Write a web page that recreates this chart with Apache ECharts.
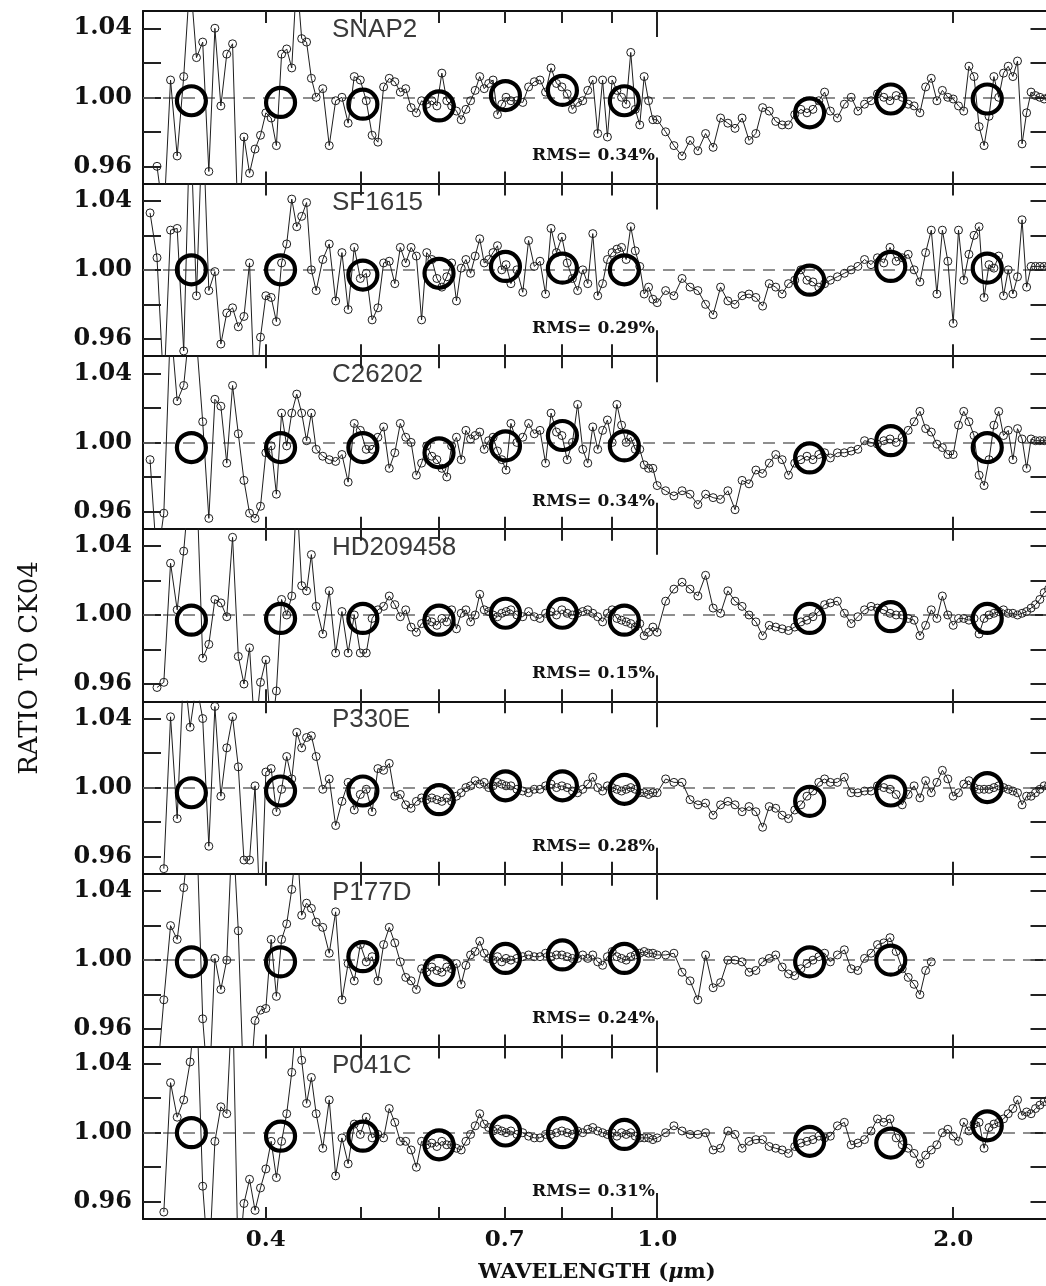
<!DOCTYPE html>
<html><head><meta charset="utf-8">
<script src="https://cdn.jsdelivr.net/npm/echarts@6/dist/echarts.min.js"></script>
<style>html,body{margin:0;padding:0;background:#fff;overflow:hidden}#c{width:1060px;height:1286px}</style>
</head><body><div id="c"></div><script>
// ---------- DATA ----------
const wavelengths = [
 0.305,0.310,0.315,0.320,0.325,0.330,0.335,0.340,0.345,0.350,0.355,0.360,0.365,0.370,0.375,0.380,0.385,0.390,0.395,0.400,0.405,0.410,0.415,0.420,0.425,0.430,0.435,0.440,0.445,0.450,
 0.457,0.464,0.471,0.478,0.485,0.492,0.499,0.506,0.513,0.520,0.527,0.534,0.541,0.548,0.555,0.562,0.569,0.576,0.583,0.590,0.597,0.604,0.611,0.618,0.625,0.632,0.639,0.646,0.653,0.660,0.667,0.674,0.681,0.688,0.695,0.702,
 0.71,0.72,0.73,0.74,0.75,0.76,0.77,0.78,0.79,0.80,0.81,0.82,0.83,0.84,0.85,0.86,0.87,0.88,0.89,0.90,0.91,0.92,0.93,0.94,0.95,0.96,0.97,0.98,0.99,1.00,
 1.02,1.04,1.06,1.08,1.10,1.12,1.14,1.16,1.18,1.20,1.22,1.24,1.26,1.28,1.30,1.32,1.34,1.36,1.38,1.40,1.42,1.44,1.46,1.48,1.50,
 1.525,1.55,1.575,1.60,1.625,1.65,1.675,1.70,1.725,1.75,1.775,1.80,1.825,1.85,1.875,1.90,1.925,1.95,1.975,2.00,2.025,2.05,2.075,2.10,2.125,2.15,2.175,2.20,2.225,2.25,2.275,2.30,2.325,2.35,2.375,2.40,2.425,2.45,2.475,2.50
];
const starNames = ['SNAP2','SF1615','C26202','HD209458','P330E','P177D','P041C'];
const rmsValues = ['0.34%','0.29%','0.34%','0.15%','0.28%','0.24%','0.31%'];

const ratioSNAP2 = [
 null,0.960,0.93,1.010,0.966,1.012,1.07,1.023,1.032,0.957,1.040,0.995,1.025,1.031,0.92,0.977,0.956,0.97,0.978,0.991,0.988,0.972,1.025,1.028,1.017,1.07,1.034,1.032,1.011,1.000,
 1.005,0.972,0.998,1.000,0.985,1.012,1.010,0.998,0.978,0.974,1.006,1.011,1.009,1.003,1.005,0.994,0.991,0.998,0.996,0.998,0.995,1.014,0.998,0.995,0.992,0.987,0.993,0.998,1.004,1.012,1.005,1.008,1.010,0.990,0.996,1.000,
 0.998,0.998,0.997,1.006,1.009,1.010,1.003,1.017,1.008,1.006,1.002,0.993,0.997,0.998,1.004,1.010,0.979,1.010,0.977,1.010,1.004,1.000,0.996,1.026,0.993,0.984,1.012,0.998,0.987,0.987,
 0.980,0.972,0.966,0.975,0.969,0.979,0.971,0.988,0.985,0.982,0.988,0.975,0.979,0.994,0.992,0.986,0.984,0.984,0.990,0.993,0.991,0.993,0.998,1.003,0.992,
 0.988,0.996,1.000,0.992,0.996,0.998,1.002,1.000,0.998,1.001,1.000,0.996,0.995,0.991,1.006,1.011,0.998,1.004,1.000,0.999,0.995,0.992,1.018,1.012,0.983,0.972,0.989,1.012,1.000,1.014,1.018,1.012,1.021,0.973,0.991,1.003,1.001,1.000,0.999,1.000
];
const ratioSF1615 = [
 1.033,1.007,0.93,1.023,1.024,0.953,1.09,0.985,1.09,0.988,0.999,0.957,0.975,0.978,0.967,0.973,1.004,0.92,0.961,0.985,0.984,0.970,1.004,1.015,1.041,1.025,1.031,1.039,1.000,0.988,
 1.006,1.015,0.982,1.010,0.977,1.013,0.995,0.998,0.971,0.978,1.004,1.005,0.992,1.013,1.004,1.013,1.008,0.971,1.010,1.006,0.995,0.990,0.996,1.004,0.982,1.001,1.006,0.998,1.008,1.018,1.004,1.006,1.010,1.014,1.000,1.003,
 0.992,1.000,0.987,1.017,1.002,1.005,0.986,1.024,1.010,1.019,1.004,0.995,0.988,1.000,0.992,1.021,0.985,0.992,1.006,1.010,1.012,1.013,1.006,1.025,1.011,1.002,0.986,0.990,0.983,0.981,
 0.988,0.985,0.995,0.990,0.988,0.980,0.974,0.990,0.982,0.980,0.985,0.986,0.984,0.979,0.992,0.990,0.986,0.992,0.994,1.000,0.994,0.993,0.990,0.992,0.994,
 0.996,0.998,1.000,1.002,1.006,1.003,1.007,1.004,1.013,1.005,1.007,1.009,1.000,0.993,1.010,1.023,0.986,1.023,1.005,0.969,1.023,0.994,1.009,1.020,1.025,0.984,1.003,1.001,1.008,0.985,1.000,0.986,0.996,1.029,0.990,1.002,1.002,1.002,1.002,1.002
];
const ratioC26202 = [
 0.990,0.93,0.959,1.07,1.024,1.033,1.07,1.06,1.012,0.956,1.025,1.021,0.988,1.033,1.005,0.978,0.959,0.956,0.963,0.994,0.998,0.970,1.017,0.998,1.017,1.028,1.017,1.001,1.017,0.996,
 0.992,0.990,0.989,0.993,0.977,1.011,1.007,0.996,0.996,1.003,1.009,0.985,0.994,1.011,1.003,1.000,0.981,0.988,0.998,0.992,0.990,0.985,0.980,0.998,1.003,0.990,1.007,1.002,1.004,1.006,0.996,1.001,1.003,0.995,0.990,0.984,
 1.011,1.000,1.003,1.011,1.005,1.007,0.988,1.017,1.006,1.004,0.990,1.000,1.022,0.996,0.988,1.009,0.996,1.007,1.013,1.000,1.022,1.010,1.000,1.003,0.996,0.996,0.987,0.985,0.985,0.975,
 0.972,0.969,0.972,0.970,0.964,0.970,0.968,0.967,0.972,0.961,0.978,0.976,0.984,0.982,0.988,0.993,0.990,0.981,0.988,0.990,0.992,0.990,0.993,0.994,0.991,
 0.994,0.994,0.995,0.996,1.001,1.000,0.999,1.001,1.002,1.000,1.003,1.007,1.012,1.018,1.008,1.006,0.999,0.997,0.993,0.993,1.010,1.018,1.012,1.004,0.981,0.975,0.990,1.010,1.018,1.004,1.007,0.990,1.008,1.002,0.985,1.002,1.001,1.001,1.001,1.001
];
const ratioHD209458 = [
 null,0.958,0.961,1.030,1.003,1.037,1.08,1.08,0.975,0.983,1.009,1.007,0.999,1.045,0.976,0.960,0.981,0.93,0.961,0.974,0.93,0.956,1.009,1.000,1.011,1.07,1.017,1.014,1.035,1.005,
 0.989,1.014,0.978,1.002,0.978,1.000,0.978,0.978,0.998,1.003,1.005,1.011,1.006,0.999,1.003,0.993,0.990,0.995,0.997,0.996,0.994,0.998,0.996,1.003,0.992,1.001,1.003,0.996,1.000,1.012,1.003,1.002,1.000,0.999,1.001,1.002,
 1.003,1.000,0.999,1.002,0.999,0.998,1.001,1.002,1.000,1.003,1.001,1.000,1.001,1.002,1.003,1.001,0.999,0.996,1.001,1.003,0.998,0.997,0.996,0.995,0.993,0.995,0.988,0.990,0.993,0.990,
 1.008,1.015,1.019,1.015,1.011,1.023,1.004,1.001,1.014,1.008,1.005,1.000,0.996,0.988,0.994,0.993,0.992,0.991,0.993,0.996,0.997,0.999,1.002,1.006,1.007,
 1.008,1.001,0.995,0.999,1.003,1.005,1.004,1.003,1.001,1.000,1.000,0.998,0.997,0.988,0.994,1.003,0.998,1.011,1.000,0.994,0.998,0.998,0.997,0.998,0.989,0.998,1.000,1.001,1.002,1.003,1.001,1.001,1.000,1.001,1.002,1.004,1.006,1.009,1.013,1.015
];
const ratioP330E = [
 null,null,0.953,1.041,0.982,1.07,1.035,1.06,1.040,0.966,1.047,0.995,1.023,1.041,1.012,0.958,0.958,1.001,0.92,1.009,1.011,0.986,0.999,1.018,1.005,1.032,1.023,1.029,1.030,1.018,
 0.999,1.005,0.978,0.992,1.003,0.987,0.996,0.999,0.986,1.011,1.010,1.014,0.995,0.996,0.990,0.988,0.992,0.994,0.993,0.994,0.993,0.992,0.994,0.992,0.995,0.997,1.000,1.001,1.004,1.002,1.003,1.000,1.001,1.003,1.002,1.001,
 1.001,0.999,0.998,0.997,0.999,0.999,1.001,1.002,1.000,1.001,1.000,0.998,0.997,0.999,1.002,1.006,1.000,0.998,1.001,1.000,0.999,0.998,0.999,1.000,0.999,0.997,0.997,0.996,0.997,0.997,
 1.005,1.003,1.003,0.993,0.990,0.991,0.984,0.990,0.992,0.990,0.986,0.989,0.986,0.977,0.989,0.988,0.984,0.982,0.987,0.990,0.995,0.998,1.003,1.005,1.003,
 1.003,1.006,0.997,0.997,0.998,0.998,1.001,1.000,0.999,0.996,0.990,0.996,1.001,0.994,1.004,0.997,1.003,1.010,1.005,0.995,0.997,1.002,1.004,1.000,0.999,0.999,0.999,1.000,1.001,1.000,0.999,0.998,0.997,0.990,0.995,0.995,0.997,0.999,1.001,1.001
];
const ratioP177D = [
 null,0.93,0.977,1.020,1.012,1.042,1.08,1.08,0.966,0.92,1.001,0.983,1.000,1.08,1.017,0.92,0.92,0.965,0.971,0.972,1.012,0.979,1.012,1.021,1.041,1.07,1.026,1.033,1.030,1.022,
 1.019,1.004,1.028,0.977,0.998,0.988,1.009,0.999,1.002,0.988,1.009,1.019,1.010,0.999,0.990,0.988,0.983,0.995,0.993,0.996,0.994,0.993,0.996,0.995,0.998,0.986,0.997,1.003,1.005,1.011,1.004,1.001,1.000,1.002,0.999,1.001,
 1.000,1.001,1.002,1.003,1.002,1.002,1.004,1.002,1.003,1.003,1.002,1.001,1.001,1.003,1.001,1.003,0.999,0.997,1.002,1.005,1.002,1.001,1.000,1.002,1.003,1.004,1.005,1.004,1.004,1.003,
 1.003,1.004,0.993,0.988,0.977,1.003,0.984,0.987,1.000,1.000,0.999,0.993,0.994,0.999,1.001,1.003,0.996,0.992,0.991,0.995,0.998,1.000,1.002,1.004,0.999,
 1.003,1.006,0.995,0.994,1.001,1.004,1.009,1.010,1.013,1.005,0.995,0.990,0.986,0.980,0.994,0.999,null,null,null,null,null,null,null,null,null,null,null,null,null,null,null,null,null,null,null,null,null,null,null,null
];
const ratioP041C = [
 null,null,0.954,1.029,1.009,1.019,1.041,1.08,0.969,0.92,0.995,1.015,1.011,1.08,0.92,0.959,0.973,0.955,0.968,0.979,0.995,0.974,0.995,1.011,1.035,1.07,1.042,1.017,1.032,1.011,
 0.991,1.019,0.975,0.997,0.982,1.005,0.999,1.009,0.997,0.999,0.997,1.014,1.006,0.995,0.995,0.990,0.980,0.995,0.993,0.994,0.992,0.995,0.993,0.993,0.991,0.990,0.995,0.999,1.004,1.011,1.005,1.003,1.001,1.002,1.001,1.000,
 1.001,0.999,1.000,0.998,0.997,0.997,0.999,0.999,1.000,1.001,1.000,0.999,1.001,1.000,1.002,1.003,1.001,1.000,0.999,1.000,0.998,1.000,0.999,1.000,0.998,0.997,0.997,0.997,0.996,0.997,
 1.000,1.004,1.001,0.999,0.999,1.000,0.990,0.991,1.001,0.999,0.991,0.995,0.996,0.996,0.992,0.991,0.990,0.988,0.992,0.994,0.995,0.996,0.998,0.997,0.998,
 1.004,1.006,0.993,0.994,0.996,1.001,1.008,1.006,1.008,0.997,0.993,0.991,0.988,0.982,0.987,0.990,0.993,1.000,1.002,0.998,0.995,1.006,1.001,1.005,1.006,0.991,1.003,1.005,1.006,1.008,1.011,1.014,1.019,1.010,1.012,1.011,1.014,1.016,1.018,1.019
];

const bandWavelengths = [0.336,0.414,0.502,0.600,0.701,0.801,0.926,1.429,1.728,2.166];
const bandSNAP2    = [0.998,0.997,0.996,0.995,1.001,1.004,0.998,0.991,0.999,0.999];
const bandSF1615   = [1.000,1.000,0.997,0.998,1.002,1.001,1.000,0.994,1.002,1.001];
const bandC26202   = [0.997,0.997,0.997,0.994,0.998,1.004,0.998,0.991,1.001,0.997];
const bandHD209458 = [0.997,0.998,0.998,0.997,1.001,1.001,0.997,0.998,0.999,0.998];
const bandP330E    = [0.997,0.998,0.998,0.993,1.001,1.001,0.999,0.992,0.998,1.000];
const bandP177D    = [0.999,0.999,1.002,0.994,1.001,1.003,1.001,0.999,1.000,null];
const bandP041C    = [1.000,0.998,0.998,0.993,1.001,1.000,0.999,0.995,0.994,1.004];

const xTickMinor  = [0.4,0.5,0.6,0.7,0.8,0.9,2.0];
const xTickMajor  = [1.0];
const xTickLabels = [0.4,0.7,1.0,2.0];
const yTicks      = [0.96,0.98,1.00,1.02,1.04];
const yTickLabels = [0.96,1.00,1.04];

const ratios = [ratioSNAP2,ratioSF1615,ratioC26202,ratioHD209458,ratioP330E,ratioP177D,ratioP041C];
const bands  = [bandSNAP2,bandSF1615,bandC26202,bandHD209458,bandP330E,bandP177D,bandP041C];

// ---------- LAYOUT ----------
const L = 143, W = 905.5, T0 = 11, H = 172.57;
const SERIF = '"DejaVu Serif", serif';
const SANS = '"Liberation Sans", Arial, sans-serif';
const frame = {color:'#111', width:2};
const tickStyle = {color:'#222', width:2};

const grid=[], xAxis=[], yAxis=[], series=[], graphic=[];
starNames.forEach((name,i)=>{
  const top = T0 + H*i;
  grid.push({left:L, top:top, width:W, height:H, containLabel:false, outerBoundsMode:'none'});
  const base = {type:'log', logBase:10, min:0.3, max:2.5, gridIndex:i, splitLine:{show:false}, axisPointer:{show:false}};
  const xi = xAxis.length;
  xAxis.push(Object.assign({}, base, {position:'bottom',
    axisLine:{show:true,onZero:false,lineStyle:frame},
    axisTick:{show:true,inside:true,length:12,customValues:xTickMinor,lineStyle:tickStyle},
    axisLabel:{show:i===6,customValues:xTickLabels,formatter:v=>Number(v).toFixed(1),margin:10,
      fontFamily:SERIF,fontSize:23,fontWeight:'bold',color:'#111'}}));
  xAxis.push(Object.assign({}, base, {position:'bottom',
    axisLine:{show:false,onZero:false},
    axisTick:{show:true,inside:true,length:26,customValues:xTickMajor,lineStyle:tickStyle},
    axisLabel:{show:false}}));
  xAxis.push(Object.assign({}, base, {position:'top',
    axisLine:{show:true,onZero:false,lineStyle:frame},
    axisTick:{show:true,inside:true,length:12,customValues:xTickMinor,lineStyle:tickStyle},
    axisLabel:{show:false}}));
  xAxis.push(Object.assign({}, base, {position:'top',
    axisLine:{show:false,onZero:false},
    axisTick:{show:true,inside:true,length:26,customValues:xTickMajor,lineStyle:tickStyle},
    axisLabel:{show:false}}));
  const yi = yAxis.length;
  const ybase = {type:'value', min:0.95, max:1.05, gridIndex:i, splitLine:{show:false}, axisPointer:{show:false}};
  yAxis.push(Object.assign({}, ybase, {position:'left',
    axisLine:{show:true,onZero:false,lineStyle:frame},
    axisTick:{show:true,inside:true,length:18,customValues:yTicks,lineStyle:tickStyle},
    axisLabel:{show:true,customValues:yTickLabels,formatter:v=>Number(v).toFixed(2),margin:11,
      fontFamily:SERIF,fontSize:24,fontWeight:'bold',color:'#111'}}));
  yAxis.push(Object.assign({}, ybase, {position:'right',
    axisLine:{show:true,onZero:false,lineStyle:frame},
    axisTick:{show:true,inside:true,length:18,customValues:yTicks,lineStyle:tickStyle},
    axisLabel:{show:false}}));

  series.push({type:'line', name:name, xAxisIndex:xi, yAxisIndex:yi,
    data: wavelengths.map((w,k)=>[w, ratios[i][k]]),
    symbol:'circle', symbolSize:8, showAllSymbol:true, clip:true, connectNulls:false,
    lineStyle:{color:'#1e1e1e', width:1},
    itemStyle:{color:'rgba(255,255,255,0)', borderColor:'#1e1e1e', borderWidth:1, opacity:1},
    emphasis:{disabled:true}, silent:true, z:3,
    markLine:{silent:true, symbol:'none', label:{show:false}, z:2,
      lineStyle:{color:'#6a6a6a', type:[12,8], width:1.6}, data:[{yAxis:1.0}]}
  });
  series.push({type:'scatter', name:name+' bands', xAxisIndex:xi, yAxisIndex:yi,
    data: bandWavelengths.map((w,k)=>[w, bands[i][k]]).filter(d=>d[1]!==null),
    symbol:'circle', symbolSize:29, clip:true,
    itemStyle:{color:'rgba(255,255,255,0)', borderColor:'#000', borderWidth:4.2, opacity:1},
    emphasis:{disabled:true}, silent:true, z:4});

  graphic.push({type:'text', x:332, y:top+19, silent:true,
    style:{text:name, fontFamily:SANS, fontSize:26, fill:'#3a3a3a', align:'left', verticalAlign:'middle'}});
  graphic.push({type:'text', x:655, y:top+145, silent:true,
    style:{text:'RMS= '+rmsValues[i], fontFamily:SERIF, fontSize:17, fontWeight:'bold', fill:'#111', align:'right', verticalAlign:'middle'}});
});

graphic.push({type:'text', x:597, y:1273, silent:true,
  style:{text:'{a|WAVELENGTH (}{b|μ}{a|m)}', align:'center', verticalAlign:'middle',
    rich:{a:{fontFamily:SERIF,fontSize:21,fontWeight:'bold',fill:'#111'},
          b:{fontFamily:SERIF,fontSize:21,fontStyle:'italic',fontWeight:'bold',fill:'#111'}}}});
graphic.push({type:'text', x:30, y:668, rotation:Math.PI/2, silent:true,
  style:{text:'RATIO TO CK04', fontFamily:SERIF, fontSize:26, fill:'#111', align:'center', verticalAlign:'middle'}});

const chart = echarts.init(document.getElementById('c'), null, {renderer:'canvas'});
chart.setOption({animation:false, backgroundColor:'#fff', grid, xAxis, yAxis, series, graphic});
</script></body></html>
